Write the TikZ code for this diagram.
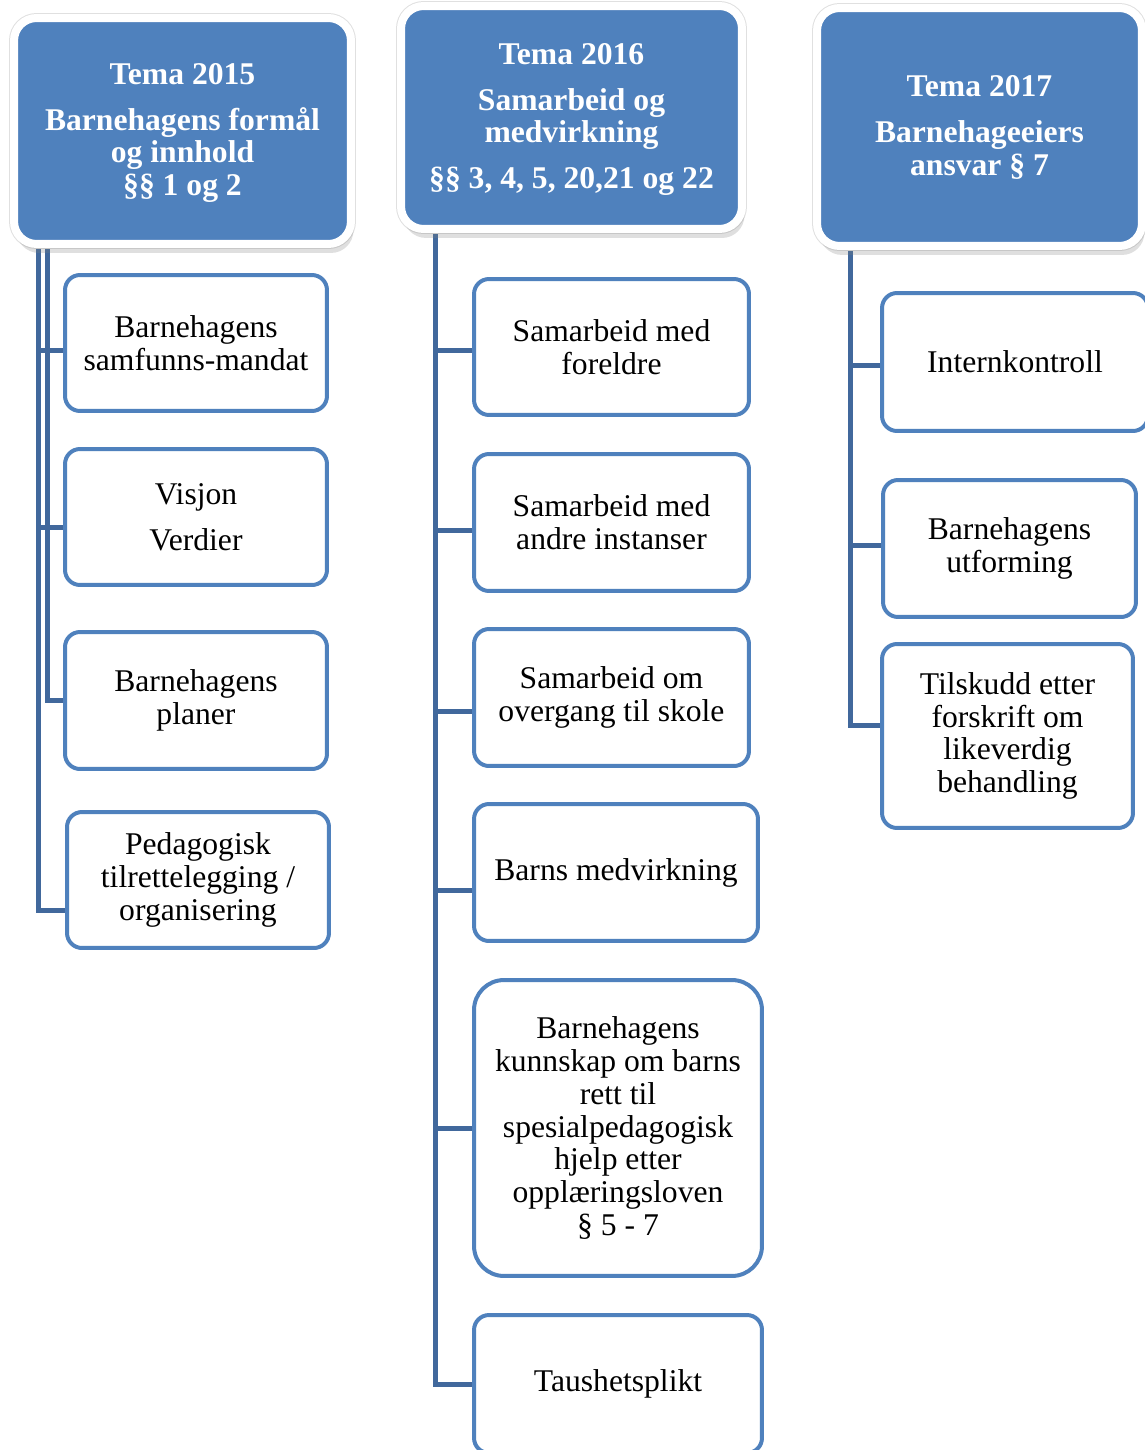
\documentclass[tikz,border=0pt]{standalone}
\usepackage{fontspec}
\setmainfont{Liberation Serif}
\usetikzlibrary{shadows,backgrounds}
\definecolor{temablue}{HTML}{4F81BD}
\definecolor{grenblue}{HTML}{41689C}

\begin{document}
\begin{tikzpicture}[x=0.02cm,y=0.02cm]
\tikzstyle{every node}+=[inner sep=0pt, align=center, font=\fontsize{18}{18.7}\selectfont]
\tikzstyle{tema}=[rectangle, rounded corners=0.45cm, fill=temablue, draw=white, line width=0.16cm, text=white, font=\bfseries\fontsize{18}{18.7}\selectfont, preaction={draw=black!12, line width=0.2cm}, drop shadow={shadow xshift=0.05cm, shadow yshift=-0.18cm, opacity=0.25}]
\tikzstyle{punkt}=[rectangle, rounded corners=0.3cm, fill=white, draw=temablue, line width=0.08cm, text=black]
\tikzstyle{gren}=[draw=grenblue, line width=0.1cm]
\useasboundingbox (0,0) rectangle (1145,-1450);
\coordinate (stemA) at (38,0);
\coordinate (stemB) at (47,0);
\coordinate (stemC) at (435,0);
\coordinate (stemD) at (850,0);
\node [tema, minimum width=6.74cm, minimum height=4.52cm, text depth=0.06cm] (tema15) at (182.5,-131) {Tema 2015\\[7.4pt]Barnehagens formål\\og innhold\\§§ 1 og 2};
\node [tema, minimum width=6.82cm, minimum height=4.46cm, text depth=0.06cm] (tema16) at (571.5,-117.5) {Tema 2016\\[7.4pt]Samarbeid og\\medvirkning\\[7.4pt]§§ 3, 4, 5, 20,21 og 22};
\node [tema, minimum width=6.5cm, minimum height=4.76cm, text depth=0.06cm] (tema17) at (979.5,-127) {Tema 2017\\[7.4pt]Barnehageeiers\\ansvar § 7};
\node [punkt, minimum width=5.24cm, minimum height=2.72cm] (mandat) at (196,-343) {Barnehagens\\samfunns-mandat};
\node [punkt, minimum width=5.24cm, minimum height=2.72cm] (visjon) at (196,-517) {Visjon\\[7.4pt]Verdier};
\node [punkt, minimum width=5.24cm, minimum height=2.74cm] (planer) at (196,-700.5) {Barnehagens\\planer};
\node [punkt, minimum width=5.24cm, minimum height=2.72cm] (pedagogisk) at (198,-880) {Pedagogisk\\tilrettelegging /\\organisering};
\node [punkt, minimum width=5.5cm, minimum height=2.72cm] (foreldre) at (611.5,-347) {Samarbeid med\\foreldre};
\node [punkt, minimum width=5.5cm, minimum height=2.74cm] (instanser) at (611.5,-522.5) {Samarbeid med\\andre instanser};
\node [punkt, minimum width=5.5cm, minimum height=2.74cm] (overgang) at (611.5,-697.5) {Samarbeid om\\overgang til skole};
\node [punkt, minimum width=5.68cm, minimum height=2.74cm] (medvirkning) at (616,-872.5) {Barns medvirkning};
\node [punkt, rounded corners=0.6cm, minimum width=5.76cm, minimum height=5.92cm] (spesial) at (618,-1128) {Barnehagens\\kunnskap om barns\\rett til\\spesialpedagogisk\\hjelp etter\\opplæringsloven\\§ 5 - 7};
\node [punkt, minimum width=5.76cm, minimum height=2.76cm] (taushet) at (618,-1384) {Taushetsplikt};
\node [punkt, minimum width=5.32cm, minimum height=2.76cm] (intern) at (1015,-362) {Internkontroll};
\node [punkt, minimum width=5.06cm, minimum height=2.74cm] (utforming) at (1009.5,-548.5) {Barnehagens\\utforming};
\node [punkt, minimum width=5.02cm, minimum height=3.68cm] (tilskudd) at (1007.5,-736) {Tilskudd etter\\forskrift om\\likeverdig\\behandling};
\begin{scope}[on background layer]
\draw [gren] (tema15.south -| stemA) |- ([yshift=-0.14cm]mandat.west);
\draw [gren] (tema15.south -| stemA) |- ([yshift=-0.2cm]visjon.west);
\draw [gren] (tema15.south -| stemB) |- (planer.west);
\draw [gren] (tema15.south -| stemA) |- ([yshift=-0.6cm]pedagogisk.west);
\draw [gren] (tema16.south -| stemC) |- ([yshift=-0.06cm]foreldre.west);
\draw [gren] (tema16.south -| stemC) |- ([yshift=-0.15cm]instanser.west);
\draw [gren] (tema16.south -| stemC) |- ([yshift=-0.27cm]overgang.west);
\draw [gren] (tema16.south -| stemC) |- ([yshift=-0.35cm]medvirkning.west);
\draw [gren] (tema16.south -| stemC) |- (spesial.west);
\draw [gren] (tema16.south -| stemC) |- (taushet.west);
\draw [gren] (tema17.south -| stemD) |- ([yshift=-0.06cm]intern.west);
\draw [gren] (tema17.south -| stemD) |- ([yshift=0.07cm]utforming.west);
\draw [gren] (tema17.south -| stemD) |- ([yshift=0.22cm]tilskudd.west);
\end{scope}
\end{tikzpicture}
\end{document}
